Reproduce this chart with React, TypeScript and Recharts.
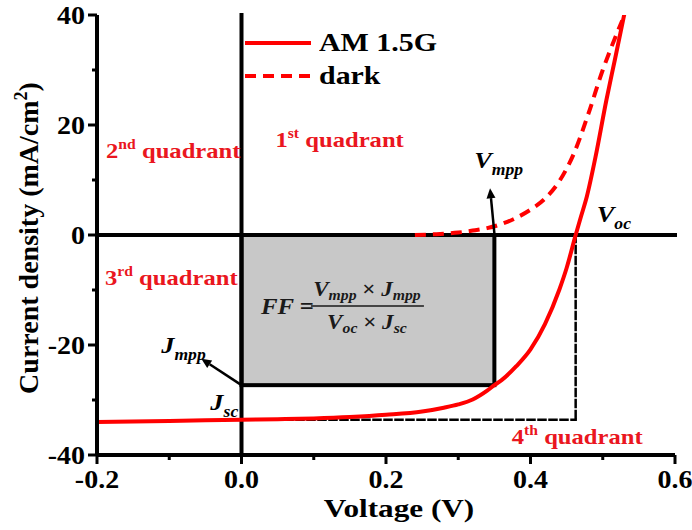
import { ComposedChart, Line, XAxis, YAxis, ReferenceLine, ReferenceArea, ReferenceDot, Legend } from 'recharts';

const FONT = '"Liberation Serif", "Times New Roman", serif';
const RED = '#ff0000';
const LABEL_RED = '#ea1620';
const SX = 1.12; // the source figure's lettering is a bit wide

// AM 1.5G illuminated J-V curve
const lightVoltage = [-0.2, -0.1, 0, 0.05, 0.1, 0.15, 0.2, 0.25, 0.28, 0.3, 0.32, 0.34, 0.35, 0.36, 0.38, 0.4, 0.42, 0.44, 0.45, 0.4625, 0.47, 0.478, 0.49, 0.505, 0.517, 0.529, 0.532];
const lightCurrent = [-34.0, -33.8, -33.6, -33.5, -33.35, -33.1, -32.7, -32.1, -31.4, -30.8, -29.9, -28.3, -27.3, -26.4, -23.9, -20.8, -16.2, -9.9, -6.0, 0, 3.4, 7.0, 14.2, 24.5, 32.0, 39.6, 41.5];

// dark J-V curve
const darkVoltage = [0.24, 0.27, 0.3, 0.32, 0.34, 0.36, 0.38, 0.4, 0.42, 0.44, 0.46, 0.48, 0.5, 0.51, 0.52, 0.527];
const darkCurrent = [0, 0.15, 0.45, 0.8, 1.25, 2.0, 3.1, 4.6, 6.6, 9.8, 14.8, 22.0, 30.0, 33.5, 36.8, 39.0];

const xTicks = [-0.2, -0.1, 0, 0.1, 0.2, 0.3, 0.4, 0.5, 0.6];
const xMajor = [-0.2, 0, 0.2, 0.4, 0.6];
const yTicks = [-40, -30, -20, -10, 0, 10, 20, 30, 40];
const yMajor = [-40, -20, 0, 20, 40];
const xDomain = [-0.2, 0.6];
const yDomain = [-40, 40];

// key points of the light curve
const vmpp = 0.35;
const jmpp = -27.3;
const voc = 0.4625;
const jsc = -33.6;

const series = [
  { key: 'light', name: 'AM 1.5G', dash: undefined as string | undefined },
  { key: 'dark', name: 'dark', dash: '11 7' },
];

const lightData = lightVoltage.map((v, i) => ({ v, j: lightCurrent[i] }));
const darkData = darkVoltage.map((v, i) => ({ v, j: darkCurrent[i] }));

const wide = (x: number, y: number, sx = SX) => `translate(${x} ${y}) scale(${sx} 1)`;

function XTick({ x, y, payload }: any) {
  const major = xMajor.includes(payload.value);
  return (
    <g>
      <line x1={x} x2={x} y1={y} y2={y + (major ? 9 : 5)} stroke="#000" strokeWidth={3} />
      {major && (
        <text transform={wide(x, y + 33)} textAnchor="middle" fontFamily={FONT} fontWeight={700} fontSize={25} fill="#000">
          {payload.value.toFixed(1)}
        </text>
      )}
    </g>
  );
}

function YTick({ x, y, payload }: any) {
  const major = yMajor.includes(payload.value);
  return (
    <g>
      <line x1={x} x2={x - (major ? 9 : 5)} y1={y} y2={y} stroke="#000" strokeWidth={3} />
      {major && (
        <text transform={wide(x - 12, y + 9)} textAnchor="end" fontFamily={FONT} fontWeight={700} fontSize={25} fill="#000">
          {payload.value}
        </text>
      )}
    </g>
  );
}

function XTitle({ viewBox }: any) {
  return (
    <text transform={wide(viewBox.x + viewBox.width / 2 + 13, viewBox.y + 62, 1.2)} textAnchor="middle" fontFamily={FONT} fontWeight={700} fontSize={26} fill="#000">
      Voltage (V)
    </text>
  );
}

function YTitle({ viewBox }: any) {
  const cx = 38;
  const cy = viewBox.y + viewBox.height / 2 + 3;
  return (
    <text x={cx} y={cy} transform={`rotate(-90 ${cx} ${cy})`} textAnchor="middle" fontFamily={FONT} fontWeight={700} fontSize={28} fill="#000">
      Current density (mA/cm<tspan dy={-11} fontSize={18}>2</tspan><tspan dy={11}>)</tspan>
    </text>
  );
}

function LegendBox() {
  return (
    <div style={{ fontFamily: FONT, fontWeight: 700, fontSize: 26, color: '#000' }}>
      {series.map((s) => (
        <div key={s.key} style={{ display: 'flex', alignItems: 'center', height: 33 }}>
          <svg width={66} height={8}>
            <line x1={0} x2={66} y1={4} y2={4} stroke={RED} strokeWidth={4} strokeDasharray={s.dash} />
          </svg>
          <span style={{ marginLeft: 8, lineHeight: '33px', display: 'inline-block', transform: 'scaleX(1.15)', transformOrigin: 'left center' }}>
            {s.name}
          </span>
        </div>
      ))}
    </div>
  );
}

// quadrant name with ordinal superscript
function quadrantShape(num: string, sup: string) {
  return ({ cx, cy }: any) => (
    <text transform={wide(cx, cy)} fontFamily={FONT} fontWeight={700} fontSize={22} fill={LABEL_RED}>
      {num}
      <tspan dy={-9} fontSize={14}>{sup}</tspan>
      <tspan dy={9}> quadrant</tspan>
    </text>
  );
}

// italic symbol with subscript
function symbolShape(main: string, sub: string) {
  return ({ cx, cy }: any) => (
    <text transform={wide(cx, cy, 1.1)} fontFamily={FONT} fontWeight={700} fontStyle="italic" fontSize={24} fill="#000">
      {main}
      <tspan dy={7} fontSize={16}>{sub}</tspan>
    </text>
  );
}

function FormulaShape({ cx, cy }: any) {
  const common = { fontFamily: FONT, fontWeight: 700, fontStyle: 'italic' as const, fill: '#1a1a1a' };
  return (
    <g>
      <text transform={wide(cx - 106, cy + 8, 1.08)} fontSize={23} {...common}>
        FF <tspan fontStyle="normal">=</tspan>
      </text>
      <line x1={cx - 56} x2={cx + 57} y1={cy} y2={cy} stroke="#1a1a1a" strokeWidth={1.6} />
      <text transform={wide(cx, cy - 10, 1.05)} textAnchor="middle" fontSize={22} {...common}>
        V<tspan dy={4} fontSize={15}>mpp</tspan>
        <tspan dy={-4} fontStyle="normal"> × </tspan>J<tspan dy={4} fontSize={15}>mpp</tspan>
      </text>
      <text transform={wide(cx, cy + 23, 1.05)} textAnchor="middle" fontSize={22} {...common}>
        V<tspan dy={4} fontSize={15}>oc</tspan>
        <tspan dy={-4} fontStyle="normal"> × </tspan>J<tspan dy={4} fontSize={15}>sc</tspan>
      </text>
    </g>
  );
}

function lineShape(width: number, dash?: string) {
  return ({ x1, y1, x2, y2 }: any) => (
    <line x1={x1} y1={y1} x2={x2} y2={y2} stroke="#000" strokeWidth={width} strokeDasharray={dash} strokeLinecap="square" />
  );
}

function BoxShape({ x, y, width, height }: any) {
  return <rect x={x} y={y} width={width} height={height} fill="#c8c8c8" stroke="#000" strokeWidth={4} />;
}

function ArrowShape({ x1, y1, x2, y2 }: any) {
  const ang = Math.atan2(y2 - y1, x2 - x1);
  const len = 10;
  const w = 4.5;
  const bx = x2 - len * Math.cos(ang);
  const by = y2 - len * Math.sin(ang);
  const px = -Math.sin(ang) * w;
  const py = Math.cos(ang) * w;
  return (
    <g>
      <line x1={x1} y1={y1} x2={bx} y2={by} stroke="#000" strokeWidth={2.5} />
      <polygon points={`${x2},${y2} ${bx + px},${by + py} ${bx - px},${by - py}`} fill="#000" />
    </g>
  );
}

const axisLine = lineShape(4);
const dashLine = lineShape(2.5, '7 4');
const frameAxisLine = { stroke: '#000', strokeWidth: 4 };

export default function App() {
  return (
    <div style={{ position: 'absolute', left: 0, top: 0, background: '#fff' }}>
      <ComposedChart width={692} height={530} margin={{ top: 15, right: 17, left: 0, bottom: 0 }}>
        <XAxis
          type="number"
          dataKey="v"
          domain={xDomain}
          ticks={xTicks}
          interval={0}
          allowDataOverflow
          height={75}
          tickLine={false}
          tickSize={0}
          tickMargin={0}
          axisLine={frameAxisLine}
          tick={<XTick />}
          label={<XTitle />}
        />
        <YAxis
          type="number"
          dataKey="j"
          domain={yDomain}
          ticks={yTicks}
          interval={0}
          allowDataOverflow
          width={97}
          tickLine={false}
          tickSize={0}
          tickMargin={0}
          axisLine={frameAxisLine}
          tick={<YTick />}
          label={<YTitle />}
        />
        {/* mirror axes that close the frame on the top and right */}
        <XAxis xAxisId="top" orientation="top" type="number" domain={xDomain} allowDataOverflow height={0} tick={false} tickLine={false} axisLine={frameAxisLine} />
        <YAxis yAxisId="right" orientation="right" type="number" domain={yDomain} allowDataOverflow width={0} tick={false} tickLine={false} axisLine={frameAxisLine} />
        <ReferenceArea x1={0} x2={vmpp} y1={jmpp} y2={0} shape={BoxShape} ifOverflow="visible" />
        <ReferenceLine segment={[{ x: 0, y: yDomain[0] }, { x: 0, y: yDomain[1] }]} shape={axisLine} ifOverflow="visible" />
        <ReferenceLine segment={[{ x: xDomain[0], y: 0 }, { x: xDomain[1], y: 0 }]} shape={axisLine} ifOverflow="visible" />
        <ReferenceLine segment={[{ x: 0, y: jsc }, { x: voc, y: jsc }]} shape={dashLine} ifOverflow="visible" />
        <ReferenceLine segment={[{ x: voc, y: 0 }, { x: voc, y: jsc }]} shape={dashLine} ifOverflow="visible" />
        <Line data={darkData} dataKey="j" name="dark" type="monotone" stroke={RED} strokeWidth={4} strokeDasharray="11 7" dot={false} isAnimationActive={false} />
        <Line data={lightData} dataKey="j" name="AM 1.5G" type="monotone" stroke={RED} strokeWidth={4} dot={false} isAnimationActive={false} />
        <ReferenceLine segment={[{ x: vmpp, y: 0.3 }, { x: 0.344, y: 8.5 }]} shape={ArrowShape} ifOverflow="visible" />
        <ReferenceLine segment={[{ x: 0, y: jmpp }, { x: -0.0556, y: -22.5 }]} shape={ArrowShape} ifOverflow="visible" />
        <ReferenceDot x={-0.1875} y={14} r={0} shape={quadrantShape('2', 'nd')} />
        <ReferenceDot x={0.047} y={16} r={0} shape={quadrantShape('1', 'st')} />
        <ReferenceDot x={-0.189} y={-9.1} r={0} shape={quadrantShape('3', 'rd')} />
        <ReferenceDot x={0.374} y={-38} r={0} shape={quadrantShape('4', 'th')} />
        <ReferenceDot x={0.322} y={12.2} r={0} shape={symbolShape('V', 'mpp')} />
        <ReferenceDot x={0.4917} y={2.4} r={0} shape={symbolShape('V', 'oc')} />
        <ReferenceDot x={-0.1111} y={-21.5} r={0} shape={symbolShape('J', 'mpp')} />
        <ReferenceDot x={-0.0431} y={-31.8} r={0} shape={symbolShape('J', 'sc')} />
        <ReferenceDot x={0.1736} y={-12.9} r={0} shape={FormulaShape} />
        <Legend
          layout="vertical"
          align="center"
          verticalAlign="middle"
          wrapperStyle={{ left: 245, top: 26, width: 'auto', height: 'auto' }}
          content={<LegendBox />}
        />
      </ComposedChart>
    </div>
  );
}
